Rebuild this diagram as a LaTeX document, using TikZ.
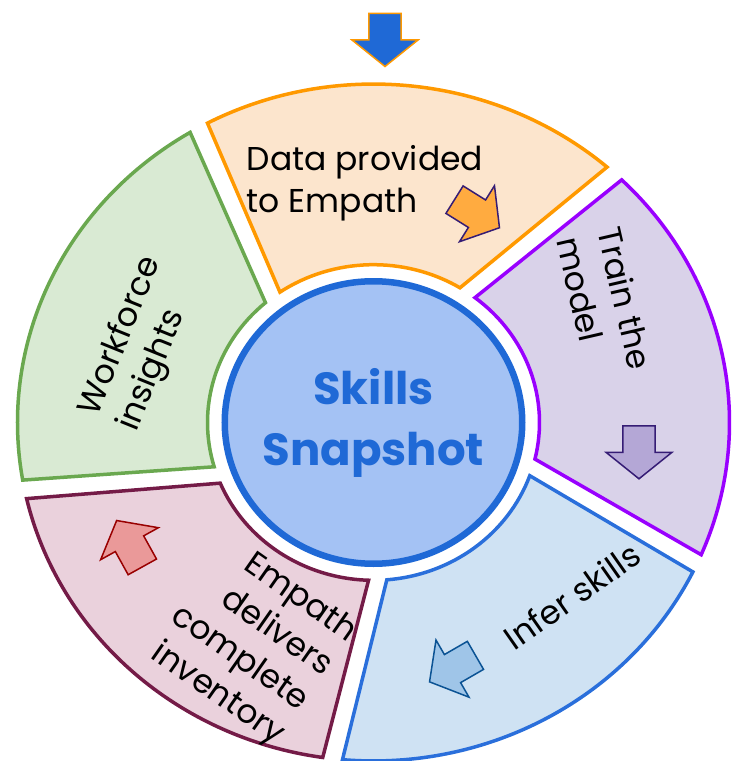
\documentclass[tikz,border=0pt]{standalone}
\usepackage{fontspec}
\setmainfont{Poppins}
\usetikzlibrary{shapes.geometric}

\definecolor{hubline}{HTML}{1F69D6}
\definecolor{hubfill}{HTML}{A4C2F4}
\definecolor{orangeline}{HTML}{FF9900}
\definecolor{orangefill}{HTML}{FCE5CD}
\definecolor{greenline}{HTML}{6AA84F}
\definecolor{greenfill}{HTML}{D9EAD3}
\definecolor{pinkline}{HTML}{741B47}
\definecolor{pinkfill}{HTML}{EAD1DC}
\definecolor{blueline}{HTML}{2A6FDB}
\definecolor{bluefill}{HTML}{CFE2F3}
\definecolor{purpleline}{HTML}{9900FF}
\definecolor{purplefill}{HTML}{D9D2E9}
\definecolor{indigoline}{HTML}{351C75}
\definecolor{orangearrow}{HTML}{FFAB40}
\definecolor{purplearrow}{HTML}{B4A7D6}
\definecolor{navyline}{HTML}{0B5394}
\definecolor{bluearrow}{HTML}{9FC5E8}
\definecolor{redline}{HTML}{990000}
\definecolor{pinkarrow}{HTML}{EA9999}

\tikzset{
  segment/.style={line width=3.5pt, line join=miter},
  steptext/.style={font=\fontsize{33}{42}\selectfont, inner sep=0pt},
  flowarrow/.pic={
    \path[pic actions, line width=1.5pt, line join=miter]
      (-26.5,16.2) -- (0,16.2) -- (0,33) -- (26.5,0) -- (0,-33)
      -- (0,-16.2) -- (-26.5,-16.2) -- cycle;
  }
}

\begin{document}
\begin{tikzpicture}[x=1pt,y=1pt]
\useasboundingbox (-373.5,-338.5) rectangle (365.5,422.5);

\begin{scope}[yscale=0.9507]
    \draw[segment, draw=orangeline, fill=orangefill] (49:356) arc[start angle=49, end angle=117.8, radius=356]
        -- (124.3:166) arc[start angle=124.3, end angle=58.6, radius=166] -- cycle;
    \draw[segment, draw=greenline, fill=greenfill] (121:356) arc[start angle=121, end angle=189.8, radius=356]
        -- (196.3:166) arc[start angle=196.3, end angle=130.6, radius=166] -- cycle;
    \draw[segment, draw=pinkline, fill=pinkfill] (193:356) arc[start angle=193, end angle=261.8, radius=356]
        -- (268.3:166) arc[start angle=268.3, end angle=202.6, radius=166] -- cycle;
    \draw[segment, draw=blueline, fill=bluefill] (265:356) arc[start angle=265, end angle=333.8, radius=356]
        -- (340.3:166) arc[start angle=340.3, end angle=274.6, radius=166] -- cycle;
    \draw[segment, draw=purpleline, fill=purplefill] (337:356) arc[start angle=337, end angle=405.8, radius=356]
        -- (412.3:166) arc[start angle=412.3, end angle=346.6, radius=166] -- cycle;
\end{scope}

\node (hub) [ellipse, draw=hubline, fill=hubfill, line width=6.5pt,
    minimum width=297.5pt, minimum height=282.5pt, inner sep=0pt] at (0,0) {};
\node (title) [font=\bfseries\fontsize{45}{61}\selectfont, text=hubline, align=center] at (hub) {Skills\\Snapshot};

\begin{scope}[every node/.style={steptext}]
    \node (data) [anchor=west, align=left] at (-126.8,239.5) {Data provided\\to Empath};
    \node (train) [align=left, rotate=-77] at (231.5,119.5) {Train the\\model};
    \node (infer) [rotate=35] at (198.5,-173.5) {Infer skills};
    \node (empath) [align=right, rotate=-35] at (-122.1,-219.5) {Empath\\delivers\\complete\\inventory};
    \node (workforce) [align=left, rotate=68] at (-232.7,78.2) {Workforce\\insights};
\end{scope}

\pic[draw=orangeline, fill=hubline, rotate=-90] at (11.5,382.5) {flowarrow};
\pic[draw=indigoline, fill=orangearrow, rotate=-32] at (103.5,208.8) {flowarrow};
\pic[draw=indigoline, fill=purplearrow, rotate=-90] at (265.5,-29.8) {flowarrow};
\pic[draw=navyline, fill=bluearrow, rotate=210] at (79,-246.1) {flowarrow};
\pic[draw=redline, fill=pinkarrow, rotate=119] at (-244,-121.2) {flowarrow};

\end{tikzpicture}
\end{document}
